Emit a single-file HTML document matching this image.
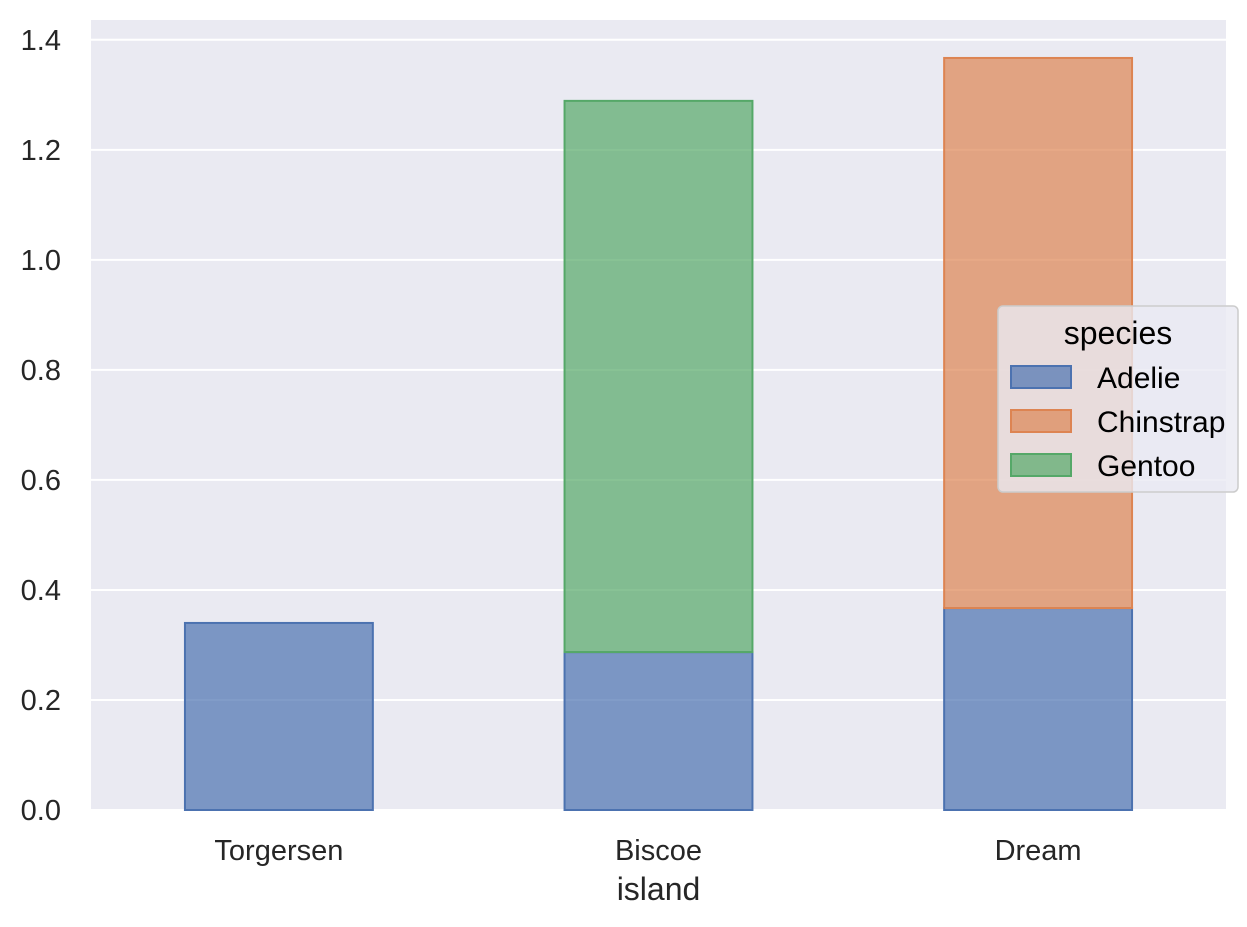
<!DOCTYPE html>
<html><head><meta charset="utf-8"><style>
body{margin:0;background:#fff;}
svg{display:block;font-family:"Liberation Sans",Arial,sans-serif;}
</style></head><body>
<svg id="chart" width="1247" height="927"></svg>
<script>
const categories = ["Torgersen","Biscoe","Dream"];
const species = ["Adelie","Chinstrap","Gentoo"];
const adelieValues = [0.34, 0.287, 0.367];
const chinstrapValues = [0, 0, 1.0];
const gentooValues = [0, 1.002, 0];
const yTicks = [0.0,0.2,0.4,0.6,0.8,1.0,1.2,1.4];
const colors = {Adelie:"#4c72b0",Chinstrap:"#dd8452",Gentoo:"#55a868"};

const NS="http://www.w3.org/2000/svg";
const svg=document.getElementById("chart");
const L=91,R=1226,T=20,B=810;
const yMax=1.436;
function yScale(v){return B-(v/yMax)*(B-T);}
function xScale(i){return L+(i+0.495)/2.99*(R-L);}
const bw=0.495*(xScale(1)-xScale(0));
function mk(tag,attrs,parent){const e=document.createElementNS(NS,tag);for(const k in attrs)e.setAttribute(k,attrs[k]);(parent||svg).appendChild(e);return e;}

const bg=mk("rect",{x:L,y:T,width:R-L,height:B-T,fill:"#eaeaf2"});


yTicks.forEach(t=>{
  const g=mk("line",{x1:L,x2:R,y1:yScale(t),y2:yScale(t),stroke:"#fff","stroke-width":2});
  
  
  const lb=mk("text",{x:61,y:yScale(t)+10,"text-anchor":"end","font-size":29,fill:"#262626"});
  lb.textContent=t.toFixed(1);
  
  
});
const series=[["Adelie",adelieValues],["Chinstrap",chinstrapValues],["Gentoo",gentooValues]];
categories.forEach((c,i)=>{
  let base=0;
  series.forEach(([name,vals])=>{
    const v=vals[i]; if(!v) return;
    const r=mk("rect",{x:xScale(i)-bw/2,y:yScale(base+v),width:bw,height:yScale(base)-yScale(base+v),fill:colors[name],"fill-opacity":0.7,stroke:colors[name],"stroke-width":2});
    
    
    base+=v;
  });
  const lb=mk("text",{x:xScale(i),y:860,"text-anchor":"middle","font-size":29,fill:"#262626"});
  lb.textContent=c;
  
  
});
const xt=mk("text",{x:(L+R)/2,y:900,"text-anchor":"middle","font-size":32,fill:"#262626"});
xt.textContent="island";



const lg=mk("g",{});


mk("rect",{x:998,y:306,width:240,height:186,rx:5,fill:"#eaeaf2","fill-opacity":0.8,stroke:"#cccccc","stroke-width":1.5},lg);
const ttl=mk("text",{x:1118,y:344,"text-anchor":"middle","font-size":32,fill:"#000"},lg);
ttl.textContent="species";


species.forEach((s,k)=>{
  const yy=366+k*44;
  const p=mk("rect",{x:1011,y:yy,width:60,height:22,fill:colors[s],"fill-opacity":0.7,stroke:colors[s],"stroke-width":2},lg);
  
  
  const t=mk("text",{x:1097,y:yy+22,"font-size":30,fill:"#000"},lg);
  t.textContent=s;
  
  
});
</script>
</body></html>
